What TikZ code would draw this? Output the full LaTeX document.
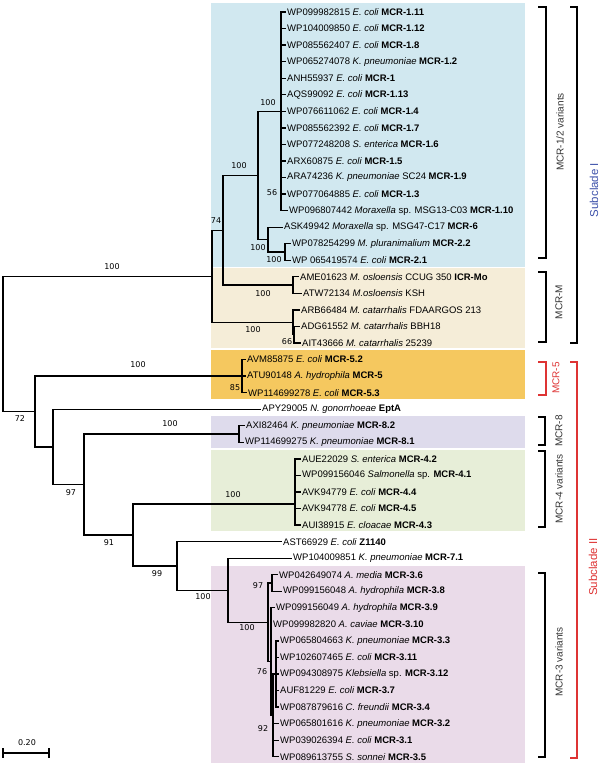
\documentclass[tikz,border=0pt]{standalone}
\usepackage{fontspec}
\setmainfont{Liberation Sans}
\newfontfamily\bsfont{DejaVu Sans}

\begin{document}
\begin{tikzpicture}[x=1pt,y=-1pt,
  branch/.style={line width=1.3pt},
  leaf/.style={anchor=west, inner sep=1pt, font=\fontsize{9.5}{10}\selectfont},
  boot/.style={inner sep=0pt, font=\bsfont\fontsize{8}{8}\selectfont},
  brk/.style={line width=1.1pt},
  grp/.style={rotate=90, inner sep=0pt, font=\fontsize{10}{10}\selectfont}]
\definecolor{bgblu}{RGB}{209,232,240}
\definecolor{bgbei}{RGB}{245,237,216}
\definecolor{bgorg}{RGB}{245,200,95}
\definecolor{bglav}{RGB}{222,219,236}
\definecolor{bggrn}{RGB}{231,238,216}
\definecolor{bgpnk}{RGB}{234,219,233}
\definecolor{rd}{RGB}{222,52,52}
\definecolor{bl}{RGB}{62,82,170}
\useasboundingbox (0,0) rectangle (600,766);
%% --- clade shading ---
\fill[bgblu] (211,3) rectangle (525,267);
\fill[bgbei] (211,268) rectangle (525,348);
\fill[bgorg] (211,350) rectangle (525,399);
\fill[bglav] (211,416) rectangle (525,448);
\fill[bggrn] (211,450) rectangle (525,531);
\fill[bgpnk] (211,566) rectangle (525,763);
%% --- leaves (row i at y = 12 + (i-1)*16.55) ---
\foreach \lx/\txt [count=\i] in {
  287/{WP099982815 \textit{E. coli} \textbf{MCR-1.11}},
  287/{WP104009850 \textit{E. coli} \textbf{MCR-1.12}},
  287/{WP085562407 \textit{E. coli} \textbf{MCR-1.8}},
  287/{WP065274078 \textit{K. pneumoniae} \textbf{MCR-1.2}},
  287/{ANH55937 \textit{E. coli} \textbf{MCR-1}},
  287/{AQS99092 \textit{E. coli} \textbf{MCR-1.13}},
  287/{WP076611062 \textit{E. coli} \textbf{MCR-1.4}},
  287/{WP085562392 \textit{E. coli} \textbf{MCR-1.7}},
  287/{WP077248208 \textit{S. enterica} \textbf{MCR-1.6}},
  287/{ARX60875 \textit{E. coli} \textbf{MCR-1.5}},
  287/{ARA74236 \textit{K. pneumoniae} SC24 \textbf{MCR-1.9}},
  287/{WP077064885 \textit{E. coli} \textbf{MCR-1.3}},
  289/{WP096807442 \textit{Moraxella} sp. MSG13-C03 \textbf{MCR-1.10}},
  284/{ASK49942 \textit{Moraxella} sp. MSG47-C17 \textbf{MCR-6}},
  292/{WP078254299 \textit{M. pluranimalium} \textbf{MCR-2.2}},
  292/{WP 065419574 \textit{E. coli} \textbf{MCR-2.1}},
  300/{AME01623 \textit{M. osloensis} CCUG 350 \textbf{ICR-Mo}},
  303/{ATW72134 \textit{M.osloensis} KSH},
  301/{ARB66484 \textit{M. catarrhalis} FDAARGOS 213},
  301/{ADG61552 \textit{M. catarrhalis} BBH18},
  302/{AIT43666 \textit{M. catarrhalis} 25239},
  247/{AVM85875 \textit{E. coli} \textbf{MCR-5.2}},
  247/{ATU90148 \textit{A. hydrophila} \textbf{MCR-5}},
  248/{WP114699278 \textit{E. coli} \textbf{MCR-5.3}},
  262/{APY29005 \textit{N. gonorrhoeae} \textbf{EptA}},
  246/{AXI82464 \textit{K. pneumoniae} \textbf{MCR-8.2}},
  245/{WP114699275 \textit{K. pneumoniae} \textbf{MCR-8.1}},
  302/{AUE22029 \textit{S. enterica} \textbf{MCR-4.2}},
  302/{WP099156046 \textit{Salmonella} sp. \textbf{MCR-4.1}},
  302/{AVK94779 \textit{E. coli} \textbf{MCR-4.4}},
  302/{AVK94778 \textit{E. coli} \textbf{MCR-4.5}},
  302/{AUI38915 \textit{E. cloacae} \textbf{MCR-4.3}},
  283/{AST66929 \textit{E. coli} \textbf{Z1140}},
  293/{WP104009851 \textit{K. pneumoniae} \textbf{MCR-7.1}},
  279/{WP042649074 \textit{A. media} \textbf{MCR-3.6}},
  283/{WP099156048 \textit{A. hydrophila} \textbf{MCR-3.8}},
  276/{WP099156049 \textit{A. hydrophila} \textbf{MCR-3.9}},
  273/{WP099982820 \textit{A. caviae} \textbf{MCR-3.10}},
  280/{WP065804663 \textit{K. pneumoniae} \textbf{MCR-3.3}},
  280/{WP102607465 \textit{E. coli} \textbf{MCR-3.11}},
  280/{WP094308975 \textit{Klebsiella} sp. \textbf{MCR-3.12}},
  280/{AUF81229 \textit{E. coli} \textbf{MCR-3.7}},
  280/{WP087879616 \textit{C. freundii} \textbf{MCR-3.4}},
  280/{WP065801616 \textit{K. pneumoniae} \textbf{MCR-3.2}},
  280/{WP039026394 \textit{E. coli} \textbf{MCR-3.1}},
  280/{WP089613755 \textit{S. sonnei} \textbf{MCR-3.5}}}
  \node[leaf] (l\i) at (\lx-1, {12+(\i-1)*16.55}) {\txt};
%% --- internal nodes ---
\coordinate (root) at (3,344);
\coordinate (n212) at (212,276.3);
\coordinate (n223) at (223,230.3);
\coordinate (n258) at (258,175.5);
\coordinate (n281) at (281,111.3);
\coordinate (n268) at (268,239.6);
\coordinate (n285) at (285,252);
\coordinate (n293a) at (293,285);
\coordinate (n293b) at (293,322.3);
\coordinate (n294) at (294,334.7);
\coordinate (n35) at (35,411.5);
\coordinate (n242) at (242,376.1);
\coordinate (n53) at (53,446.9);
\coordinate (n84) at (84,484.5);
\coordinate (n239) at (239,434);
\coordinate (n133) at (133,535);
\coordinate (n295) at (295,504);
\coordinate (n177) at (177,565.9);
\coordinate (n228) at (228,590.2);
\coordinate (n268b) at (268,622.3);
\coordinate (n272) at (272,583);
\coordinate (n271) at (271,661.6);
\coordinate (n273) at (273,715.4);
\coordinate (n276) at (276,674);
%% --- branches ---
\foreach \p/\c in {root/n212, root/n35, n212/n223, n212/n293b, n223/n258, n223/n293a,
  n258/n281, n258/n268, n268/n285, n293b/n294, n35/n242, n35/n53, n53/n84,
  n84/n239, n84/n133, n133/n295, n133/n177, n177/n228, n228/n268b,
  n268b/n272, n268b/n271, n271/n273, n273/n276}
  \draw[branch] (\p) |- (\c);
\foreach \p/\c in {n281/1, n281/2, n281/3, n281/4, n281/5, n281/6, n281/7, n281/8,
  n281/9, n281/10, n281/11, n281/12, n281/13, n268/14, n285/15, n285/16,
  n293a/17, n293a/18, n293b/19, n294/20, n294/21, n242/22, n242/23, n242/24,
  n53/25, n239/26, n239/27, n295/28, n295/29, n295/30, n295/31, n295/32,
  n177/33, n228/34, n272/35, n272/36, n271/37, n271/38, n276/39, n276/40,
  n276/41, n276/42, n276/43, n273/44, n273/45, n273/46}
  \draw[branch] (\p) |- (l\c.west);
%% --- bootstrap values ---
\foreach \bx/\by/\bv in {112/267/100, 216/221/74, 239/166/100, 268/103/100, 272/193/56,
  258/248/100, 274/260/100, 263/294/100, 253/330/100, 287/342/66, 138/365/100,
  235/388/85, 20/419/72, 170/424/100, 71/493/97, 233/495/100, 109/543/91,
  157/574/99, 203/597/100, 247/628/100, 258/586/97, 262/672/76, 263/729/92}
  \node[boot] at (\bx,\by) {\bv};
%% --- group brackets ---
\draw[brk] (538,7) -| (546,258) -- (538,258);
\draw[brk] (538,272) -| (546,342) -- (538,342);
\draw[brk, rd] (538,362) -| (546,395) -- (538,395);
\draw[brk] (538,417) -| (545,445) -- (538,445);
\draw[brk] (538,451) -| (545,527) -- (538,527);
\draw[brk] (538,573) -| (545,757) -- (538,757);
\draw[brk] (570,7) -| (577,343) -- (570,343);
\draw[brk, rd] (570,362) -| (577,758) -- (570,758);
\node[grp, black!80] (g12) at (560,132) {MCR-1/2 variants};
\node[grp, black!80] (gM) at (559,302) {MCR-M};
\node[grp, rd] (g5) at (556,378) {MCR-5};
\node[grp, black!80] (g8) at (559,431) {MCR-8};
\node[grp, black!80] (g4) at (559,489) {MCR-4 variants};
\node[grp, black!80] (g3) at (559,662) {MCR-3 variants};
\node[grp, bl, font=\fontsize{11.5}{12}\selectfont] (sc1) at (594,190) {Subclade I};
\node[grp, rd, font=\fontsize{11.5}{12}\selectfont] (sc2) at (593,567) {Subclade II};
%% --- scale bar ---
\draw[line width=1.1pt] (3,753) -- (49,753);
\draw[line width=1.1pt] (3,748) -- (3,758);
\draw[line width=1.1pt] (49,748) -- (49,758);
\node[boot] (sb) at (27,743) {0.20};
\end{tikzpicture}
\end{document}
